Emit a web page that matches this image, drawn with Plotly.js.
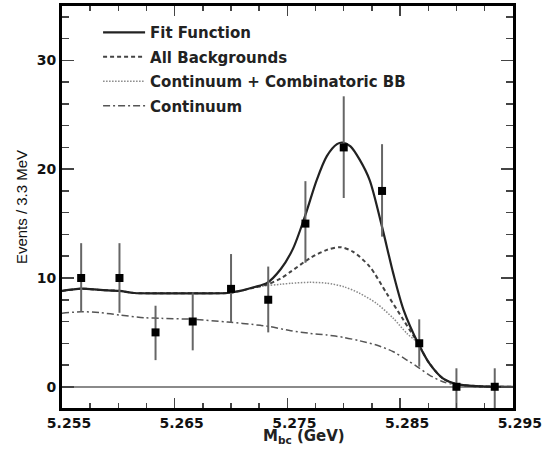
<!DOCTYPE html>
<html>
<head>
<meta charset="utf-8">
<script src="https://cdn.plot.ly/plotly-3.0.1.min.js"></script>
<style>
  html, body { margin: 0; padding: 0; background: #fff; }
  #chart { width: 542px; height: 456px; }
</style>
</head>
<body>
<div id="chart"></div>
<script>
// ---- Data ----
// Measured histogram (bin centres, GeV) and counts
var binX = [5.2567, 5.2601, 5.2633, 5.2666, 5.2700, 5.2733, 5.2766, 5.2800, 5.2834, 5.2867, 5.2900, 5.2934];
var counts = [10, 10, 5, 6, 9, 8, 15, 22, 18, 4, 0, 0];
var errUp = [3.2, 3.2, 2.45, 2.6, 3.2, 3.05, 3.9, 4.7, 4.3, 2.2, 1.7, 1.7];
var errDown = [3.1, 3.2, 2.55, 2.65, 3.1, 3.0, 3.6, 4.65, 4.2, 2.15, 2.5, 2.5];

// Fit function (solid)
var fitX = [5.2550, 5.2567, 5.2584, 5.2601, 5.2614, 5.2638, 5.2667, 5.2697, 5.2708, 5.2720, 5.2732, 5.2744, 5.2755, 5.2766, 5.2776, 5.2785, 5.2794, 5.2799, 5.2806, 5.2814, 5.2823, 5.2834, 5.2844, 5.2853, 5.2866, 5.2876, 5.2888, 5.2900, 5.2918, 5.2950];
var fitY = [8.81, 9.02, 8.90, 8.81, 8.62, 8.59, 8.59, 8.62, 8.81, 9.15, 9.55, 10.8, 12.7, 15.8, 19.0, 21.2, 22.3, 22.45, 22.1, 20.9, 19.0, 14.7, 10.4, 7.1, 4.0, 2.15, 0.77, 0.25, 0.06, 0.0];

// All backgrounds (dashed)
var bgX = [5.2550, 5.2567, 5.2584, 5.2601, 5.2614, 5.2638, 5.2667, 5.2697, 5.2708, 5.2720, 5.2732, 5.2744, 5.2753, 5.2770, 5.2785, 5.2797, 5.2808, 5.2823, 5.2838, 5.2853, 5.2866, 5.2876, 5.2888, 5.2900, 5.2918, 5.2950];
var bgY = [8.81, 9.02, 8.90, 8.81, 8.62, 8.59, 8.59, 8.62, 8.81, 9.10, 9.40, 9.95, 10.58, 11.82, 12.58, 12.83, 12.43, 11.05, 8.6, 6.14, 3.99, 2.15, 0.77, 0.25, 0.06, 0.0];

// Continuum + combinatoric BB (dotted)
var ccX = [5.2550, 5.2567, 5.2584, 5.2601, 5.2614, 5.2638, 5.2667, 5.2697, 5.2708, 5.2720, 5.2732, 5.2744, 5.2753, 5.2770, 5.2785, 5.2800, 5.2814, 5.2829, 5.2844, 5.2856, 5.2866, 5.2876, 5.2888, 5.2900, 5.2918, 5.2950];
var ccY = [8.81, 9.02, 8.90, 8.81, 8.62, 8.59, 8.59, 8.62, 8.81, 9.10, 9.30, 9.42, 9.51, 9.60, 9.52, 9.20, 8.60, 7.67, 6.29, 4.91, 3.99, 2.15, 0.77, 0.25, 0.06, 0.0];

// Continuum (dash-dot)
var contX = [5.2550, 5.2567, 5.2584, 5.2601, 5.2623, 5.2638, 5.2667, 5.2697, 5.2726, 5.2735, 5.2753, 5.2770, 5.2785, 5.2800, 5.2814, 5.2829, 5.2844, 5.2856, 5.2866, 5.2876, 5.2888, 5.2900, 5.2918, 5.2950];
var contY = [6.75, 6.90, 6.81, 6.60, 6.35, 6.29, 6.20, 5.95, 5.65, 5.52, 5.15, 4.91, 4.76, 4.54, 4.23, 3.84, 3.22, 2.46, 1.79, 1.08, 0.46, 0.16, 0.0, 0.0];

// Axis ticks
var xTickVals = [5.255, 5.265, 5.275, 5.285, 5.295];
var xTickText = ['5.255', '5.265', '5.275', '5.285', '5.295'];
var yTickVals = [0, 10, 20, 30];
var yTickText = ['0', '10', '20', '30'];

var legendNames = ['Fit Function', 'All Backgrounds', 'Continuum + Combinatoric BB', 'Continuum'];

// ---- Traces ----
var tCont = {
  x: contX, y: contY, type: 'scatter', mode: 'lines', name: legendNames[3],
  line: { color: '#555', width: 1.5, dash: '7px,3px,2px,3px', shape: 'spline', smoothing: 0.8 },
  legendrank: 4, legendgroup: 'd', hoverinfo: 'skip'
};
var tCC = {
  x: ccX, y: ccY, type: 'scatter', mode: 'lines', name: legendNames[2],
  line: { color: '#888', width: 1.5, dash: '1.5px,1.5px', shape: 'spline', smoothing: 0.8 },
  legendrank: 3, legendgroup: 'c', hoverinfo: 'skip'
};
var tBg = {
  x: bgX, y: bgY, type: 'scatter', mode: 'lines', name: legendNames[1],
  line: { color: '#444', width: 2, dash: '4px,3px', shape: 'spline', smoothing: 0.8 },
  legendrank: 2, legendgroup: 'b', hoverinfo: 'skip'
};
var tFit = {
  x: fitX, y: fitY, type: 'scatter', mode: 'lines', name: legendNames[0],
  line: { color: '#222', width: 2.2, shape: 'spline', smoothing: 0.8 },
  legendrank: 1, legendgroup: 'a', hoverinfo: 'skip'
};
var tData = {
  x: binX, y: counts, type: 'scatter', mode: 'markers', name: 'Data', showlegend: false,
  marker: { symbol: 'square', size: 8, color: '#000' },
  error_y: { type: 'data', symmetric: false, array: errUp, arrayminus: errDown,
             color: '#666', thickness: 2, width: 0 }
};

var layout = {
  width: 542, height: 456,
  margin: { l: 62, r: 29, t: 6, b: 48 },
  paper_bgcolor: '#fff', plot_bgcolor: '#fff',
  font: { family: 'Liberation Sans', size: 15, color: '#111' },
  showlegend: true,
  legend: {
    x: 0.08, y: 0.975, xanchor: 'left', yanchor: 'top',
    bgcolor: 'rgba(0,0,0,0)', borderwidth: 0,
    font: { family: 'DejaVu Sans', size: 15, color: '#222', weight: 'bold' },
    itemwidth: 42, tracegroupgap: 2, traceorder: 'grouped'
  },
  xaxis: {
    range: [5.255, 5.29502], tickvals: xTickVals, ticktext: xTickText,
    ticks: 'inside', ticklen: 10, tickwidth: 1.5, tickcolor: '#444',
    minor: { dtick: 0.0025, tick0: 5.255, ticks: 'inside', ticklen: 5, tickwidth: 1.5, tickcolor: '#444' },
    mirror: 'allticks', showline: true, linecolor: '#000', linewidth: 3,
    showgrid: false, zeroline: false, ticklabelshift: 7, ticklabeloverflow: 'allow',
    tickfont: { family: 'DejaVu Sans', size: 14, color: '#111', weight: 'bold' }
  },
  yaxis: {
    range: [-1.95, 35], tickvals: yTickVals, ticktext: yTickText,
    ticks: 'inside', ticklen: 12, tickwidth: 1.5, tickcolor: '#444',
    minor: { dtick: 2, tick0: 0, ticks: 'inside', ticklen: 7, tickwidth: 1.5, tickcolor: '#444' },
    mirror: 'allticks', showline: true, linecolor: '#000', linewidth: 3,
    showgrid: false, zeroline: true, zerolinecolor: '#8a8a8a', zerolinewidth: 2,
    tickfont: { family: 'DejaVu Sans', size: 14, color: '#111', weight: 'bold' },
    title: { text: '\u00a0\u00a0\u00a0\u00a0\u00a0\u00a0\u00a0Events / 3.3 MeV', standoff: 6,
             font: { family: 'Liberation Sans', size: 15, color: '#111' } }
  },
  annotations: [
    { text: 'M<sub>bc</sub> (GeV)', xref: 'paper', yref: 'paper', x: 0.537, y: -0.043,
      xanchor: 'center', yanchor: 'top', showarrow: false,
      font: { family: 'DejaVu Sans', size: 15, color: '#222', weight: 'bold' } }
  ]
};

Plotly.newPlot('chart', [tCont, tCC, tBg, tFit, tData], layout, { displayModeBar: false, staticPlot: true });
</script>
</body>
</html>
